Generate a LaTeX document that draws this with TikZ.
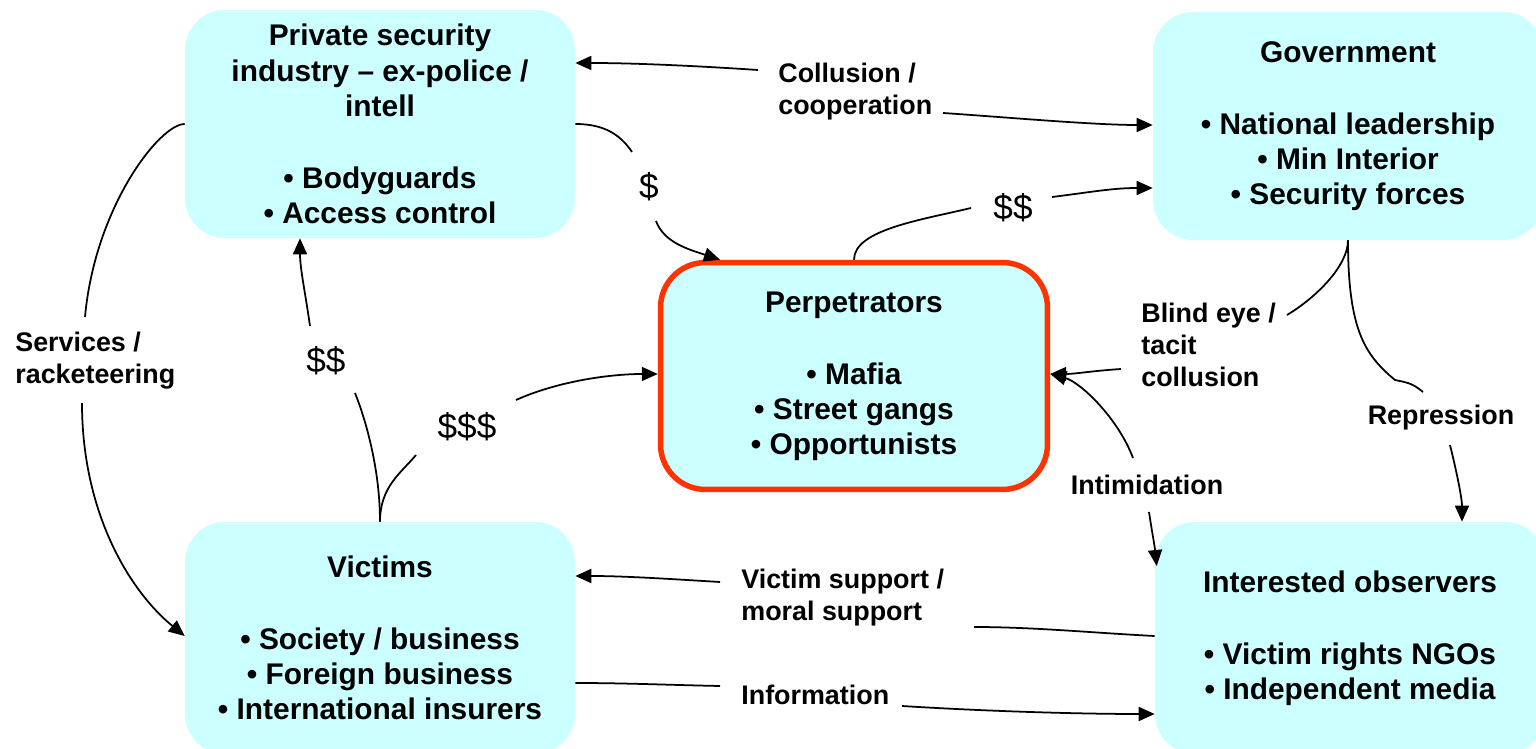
\documentclass[tikz,border=0pt]{standalone}
\usepackage{fontspec}
\setmainfont{Liberation Sans}
\usetikzlibrary{arrows.meta,calc}
\definecolor{light_cyan}{RGB}{204,255,255}
\definecolor{red_orange}{RGB}{255,51,0}

\begin{document}
\begin{tikzpicture}[x=0.02cm,y=-0.02cm,
	box/.style={rectangle,rounded corners=0.8cm,fill=light_cyan,inner sep=2pt,minimum width=7.8cm,minimum height=4.64cm,align=center,font=\fontsize{17}{20}\selectfont\bfseries},
	lbl/.style={align=left,inner sep=0pt,font=\fontsize{15.3}{18.2}\selectfont\bfseries},
	cash/.style={inner sep=0pt,font=\fontsize{20}{24}\selectfont},
	link/.style={black,line width=1pt},
	arr/.style={link,-{Triangle[length=0.32cm,width=0.28cm]}}]
	\path[use as bounding box,fill=white] (0,0) rectangle (1536,749);

	% boxes
	\node[box,minimum height=4.56cm] (priv) at (380,124) {Private security\\industry -- ex-police /\\intell\\[21pt]• Bodyguards\\• Access control};
	\node[box,minimum height=4.56cm] (gov) at (1348,126) {Government\\[21pt]• National leadership\\• Min Interior\\• Security forces};
	\node[box,draw=red_orange,line width=0.11cm,rounded corners=0.9cm,minimum width=7.74cm,minimum height=4.54cm] (perp) at (854,376) {Perpetrators\\[21pt]• Mafia\\• Street gangs\\• Opportunists};
	\node[box] (vict) at (380,638) {Victims\\[21pt]• Society / business\\• Foreign business\\• International insurers};
	\node[box] (obs) at (1350,638) {Interested observers\\[21pt]• Victim rights NGOs\\• Independent media};

	% labels
	\node[lbl,anchor=west] (collab) at (778,92) {Collusion /\\cooperation};
	\node[lbl,anchor=west] (blind) at (1141,345) {Blind eye /\\tacit\\collusion};
	\node[lbl] (repr) at (1441,418) {Repression};
	\node[lbl] (intim) at (1147,485) {Intimidation};
	\node[lbl,anchor=west] (vsup) at (741,598) {Victim support /\\moral support};
	\node[lbl,anchor=west] (info) at (741,695) {Information};
	\node[lbl,anchor=west] (serv) at (15,361) {Services /\\racketeering};
	\node[cash] (dollA) at (649,187) {\$};
	\node[cash] (dollB) at (1013,208) {\$\$};
	\node[cash] (dollC) at (326,361) {\$\$};
	\node[cash] (dollD) at (467,427) {\$\$\$};

	% collusion / cooperation
	\draw[arr] ($(collab.west)+(-20,-22)$) .. controls +(-60,-4) and +(60,0) .. ($(priv.east)+(0,-61)$);
	\draw[arr] ($(collab.west)+(165,21)$) .. controls +(60,4) and +(-60,0) .. ($(gov.west)+(0,-1)$);

	% money to perpetrators and government
	\draw[link] (priv.east) .. controls +(28,0) and +(-12,-18) .. ($(dollA)+(-17,-35)$);
	\draw[arr] ($(dollA)+(7,34)$) .. controls +(8,22) and +(-30,-10) .. ($(perp.north)+(-134,0)$);
	\draw[link] (perp.north) .. controls +(0,-30) and +(-50,12) .. ($(dollB)+(-42,0)$);
	\draw[arr] ($(dollB)+(39,-11)$) .. controls +(40,-5) and +(-40,0) .. ($(gov.west)+(0,62)$);

	% government
	\draw[link] (gov.south) .. controls +(0,25) and +(30,-18) .. ($(blind.west)+(146,-30)$);
	\draw[arr] ($(blind.west)+(-20,24)$) .. controls +(-30,2) and +(25,0) .. ($(perp.east)+(0,-2)$);
	\draw[link] (gov.south) .. controls +(0,90) and +(-30,-25) .. ($(repr)+(-46,-38)$) .. controls +(15,3) and +(-10,-8) .. ($(repr)+(-18,-26)$);
	\draw[arr] ($(repr)+(9,27)$) .. controls +(5,20) and +(0,-25) .. ($(obs.north)+(112,0)$);

	% intimidation
	\draw[arr] ($(intim)+(-14,-27)$) .. controls +(-15,-40) and +(30,8) .. ($(perp.east)+(0,-2)$);
	\draw[arr] ($(intim)+(2,27)$) .. controls +(3,20) and +(-2,-20) .. ($(obs.west)+(2,-72)$);

	% observers and victims
	\draw[link] ($(obs.west)+(0,-2)$) .. controls +(-60,-3) and +(60,0) .. ($(vsup.west)+(233,29)$);
	\draw[arr] ($(vsup.west)+(-21,-16)$) .. controls +(-50,-3) and +(50,0) .. ($(vict.east)+(0,-62)$);
	\draw[link] ($(vict.east)+(0,45)$) .. controls +(50,0) and +(-50,-1) .. ($(info.west)+(-21,-9)$);
	\draw[arr] ($(info.west)+(161,11)$) .. controls +(80,5) and +(-80,0) .. ($(obs.west)+(0,76)$);

	% services / racketeering
	\draw[link] (priv.west) .. controls +(-25,0) and +(10,-110) .. ($(serv.west)+(70,-44)$);
	\draw[arr] ($(serv.west)+(67,42)$) .. controls +(0,110) and +(-55,-45) .. ($(vict.west)+(0,-2)$);

	% victims pay
	\draw[link] (vict.north) .. controls +(0,-50) and +(12,30) .. ($(dollC)+(29,32)$);
	\draw[arr] ($(dollC)+(-16,-35)$) .. controls +(-5,-35) and +(0,30) .. ($(priv.south)+(-80,0)$);
	\draw[link] (vict.north) .. controls +(0,-35) and +(-15,18) .. ($(dollD)+(-51,28)$);
	\draw[arr] ($(dollD)+(49,-27)$) .. controls +(40,-18) and +(-50,0) .. ($(perp.west)+(0,-2)$);
\end{tikzpicture}
\end{document}
